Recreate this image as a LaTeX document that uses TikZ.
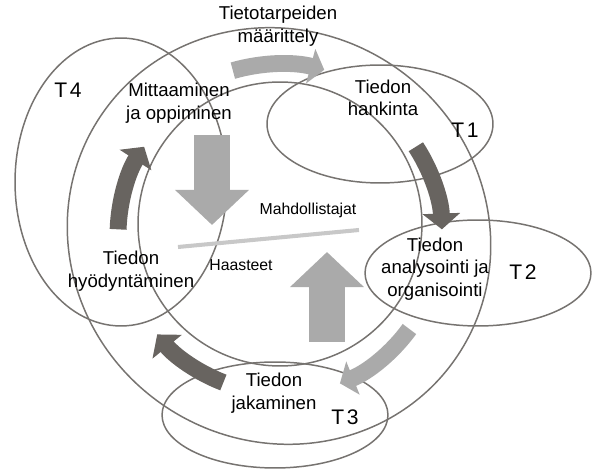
\documentclass[tikz,border=0pt]{standalone}
\usepackage{fontspec}
\setmainfont{Liberation Sans}
\usetikzlibrary{shapes,
                arrows.meta,
                positioning}
\definecolor{ringgray}{RGB}{118,115,112}
\definecolor{darkflow}{RGB}{104,100,96}
\definecolor{lightflow}{RGB}{170,170,170}
\definecolor{barline}{RGB}{200,200,200}
\tikzset{zone/.style =
   {ellipse,
    draw = ringgray,
    line width = 0.85pt,
    inner sep = 0pt}}
\tikzset{phase/.style =
   {align = center,
    inner sep = 0pt,
    font = \fontsize{10.6}{12.8}\selectfont}}
\tikzset{tag/.style =
   {inner sep = 0pt,
    font = \fontsize{12}{14}\selectfont}}
\tikzset{force/.style =
   {inner sep = 0pt,
    font = \fontsize{9}{11}\selectfont}}
\tikzset{flowdark/.style =
   {draw = darkflow,
    line width = 9.6pt,
    -{Triangle[width = 21pt, length = 9pt]}}}
\tikzset{flowlight/.style =
   {draw = lightflow,
    line width = 9.6pt,
    -{Triangle[width = 20pt, length = 8pt]}}}
\tikzset{pressure/.style =
   {draw = lightflow,
    line width = 20.4pt,
    -{Triangle[width = 41pt, length = 20pt]}}}

\begin{document}
\begin{tikzpicture}[x = 0.02cm, y = 0.02cm]

    \useasboundingbox (0,0) rectangle (599,-472);

    \coordinate (hub) at (280,-235);

    \node [zone,
           minimum width = 8.6cm,
           minimum height = 8.2cm,
           rotate = -35] (cycle) at (279,-236) {};
    \node [zone,
           circle,
           minimum size = 5.68cm] (core) at (280,-224) {};
    \node [zone,
           minimum width = 4.24cm,
           minimum height = 5.76cm] (t4zone) at (121,-182) {};
    \node [zone,
           minimum width = 4.52cm,
           minimum height = 2.36cm] (t1zone) at (380,-124) {};
    \node [zone,
           minimum width = 4.52cm,
           minimum height = 2.12cm] (t2zone) at (478,-273) {};
    \node [zone,
           minimum width = 4.52cm,
           minimum height = 2.12cm] (t3zone) at (275,-415) {};

    \draw [flowlight] ([shift = {(106:171)}]hub)
        arc [start angle = 106, end angle = 75, radius = 171];
    \draw [flowdark]  ([shift = {(33:162)}]hub)
        arc [start angle = 33, end angle = 2, radius = 162];
    \draw [flowlight] ([shift = {(-36:160)}]hub)
        arc [start angle = -36, end angle = -68, radius = 160];
    \draw [flowdark]  ([shift = {(-111:158)}]hub)
        arc [start angle = -111, end angle = -141, radius = 158];
    \draw [flowdark]  ([shift = {(178:162)}]hub)
        arc [start angle = 178, end angle = 147, radius = 162];

    \coordinate (barleft)  at (178,-247);
    \coordinate (barright) at (359,-230);
    \draw [barline, line width = 2.3pt] (barleft) -- (barright);

    \coordinate (downtop) at (212,-135);
    \coordinate (downtip) at (212,-225);
    \coordinate (uptail)  at (327,-342);
    \coordinate (uptip)   at (327,-252);
    \draw [pressure] (downtop) -- (downtip);
    \draw [pressure] (uptail) -- (uptip);

    \node [phase] (needs)   at (278,-26)  {Tietotarpeiden\\määrittely};
    \node [phase] (acquire) at (383,-98)  {Tiedon\\hankinta};
    \node [phase] (analyse) at (435,-269) {Tiedon\\analysointi ja\\organisointi};
    \node [phase] (share)   at (274,-393) {Tiedon\\jakaminen};
    \node [phase] (use)     at (131,-271) {Tiedon\\hyödyntäminen};
    \node [phase] (learn)   at (179,-103) {Mittaaminen\\ja oppiminen};

    \node [tag] (t4) at (68,-90)   {T\kern1.5pt4};
    \node [tag] (t1) at (465,-130) {T\kern1.5pt1};
    \node [tag] (t2) at (523,-272) {T\kern1.5pt2};
    \node [tag] (t3) at (345,-417) {T\kern1.5pt3};

    \node [force] (enablers)   at (308,-210) {Mahdollistajat};
    \node [force] (challenges) at (241,-265) {Haasteet};

\end{tikzpicture}
\end{document}
